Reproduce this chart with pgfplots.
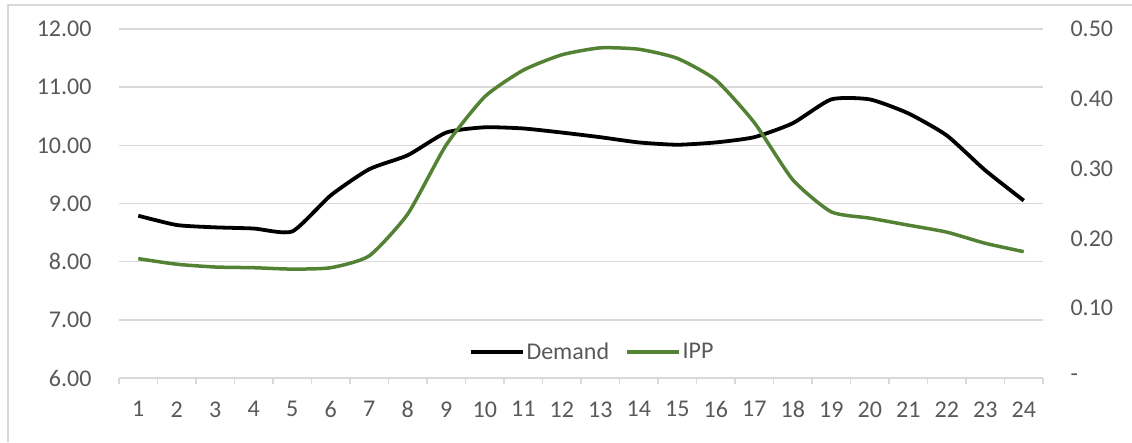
\documentclass[border=0pt]{standalone}
\usepackage{pgfplots}
\pgfplotsset{compat=1.18}
\usepackage{fontspec}
\setmainfont{Carlito}

\definecolor{ippgreen}{RGB}{84,130,53}
\definecolor{gridgray}{RGB}{217,217,217}
\definecolor{labelgray}{RGB}{89,89,89}

% Hourly demand (left axis) and IPP (right axis)
\pgfplotstableread{
hour demand ipp
1  8.79  0.171
2  8.63  0.163
3  8.59  0.159
4  8.57  0.158
5  8.52  0.156
6  9.14  0.158
7  9.59  0.175
8  9.83  0.235
9  10.22 0.334
10 10.31 0.403
11 10.29 0.441
12 10.22 0.463
13 10.14 0.473
14 10.05 0.471
15 10.01 0.458
16 10.05 0.427
17 10.14 0.366
18 10.38 0.284
19 10.79 0.238
20 10.79 0.229
21 10.55 0.219
22 10.17 0.209
23 9.57  0.193
24 9.05  0.181
}\hourly

\pgfplotsset{
  base/.style={
    at={(119pt,64pt)}, anchor=south west,
    width=924pt, height=349pt, scale only axis,
    xmin=0.5, xmax=24.5,
    font=\fontsize{24}{27}\selectfont,
    ticklabel style={text=labelgray},
    /pgf/number format/assume math mode=true,
    axis line style={draw=none},
    clip=false,
  }
}

\begin{document}
\begin{tikzpicture}[x=1pt,y=1pt]
\path[use as bounding box] (0,0) rectangle (1132,442);
\draw[gridgray, line width=1.2pt] (8,0) -- (8,437) -- (1132,437);

% Left axis: demand
\begin{axis}[base,
  ymin=6, ymax=12, ytick={6,7,...,12},
  ymajorgrids, grid style={gridgray, line width=1.5pt},
  y tick label style={/pgf/number format/fixed, /pgf/number format/fixed zerofill, /pgf/number format/precision=2, xshift=-24pt},
  xtick={1,...,24},
  minor xtick={0.5,1.5,...,24.5},
  tick align=outside,
  major tick length=0pt,
  minor tick length=6pt,
  minor tick style={gridgray, line width=1.2pt},
  xtick pos=bottom, ytick pos=left,
  xticklabel style={yshift=-20pt},
]
\addplot[black, line width=3.8pt, smooth, tension=0.35] table[x=hour, y=demand] {\hourly};
\end{axis}

% Right axis: IPP
\begin{axis}[base,
  ymin=0, ymax=0.5, ytick={0,0.1,...,0.5},
  yticklabels={-,0.10,0.20,0.30,0.40,0.50},
  axis y line*=right,
  axis line style={draw=none},
  xtick=\empty,
  major tick length=0pt,
  yticklabel style={xshift=24pt},
  legend style={at={(0.512,0.0745)}, anchor=center, draw=none, fill=none,
    legend columns=2, text=labelgray,
    font=\fontsize{24}{27}\selectfont,
    /tikz/every even column/.append style={column sep=14pt},
    nodes={inner sep=2pt}},
  legend image code/.code={\draw[#1] (0pt,0pt) -- (52pt,0pt);},
]
\addlegendimage{black, line width=3.8pt}
\addlegendentry{Demand}
\addplot[ippgreen, line width=3.5pt, smooth, tension=0.35] table[x=hour, y=ipp] {\hourly};
\addlegendentry{IPP}
\end{axis}
\end{tikzpicture}
\end{document}
